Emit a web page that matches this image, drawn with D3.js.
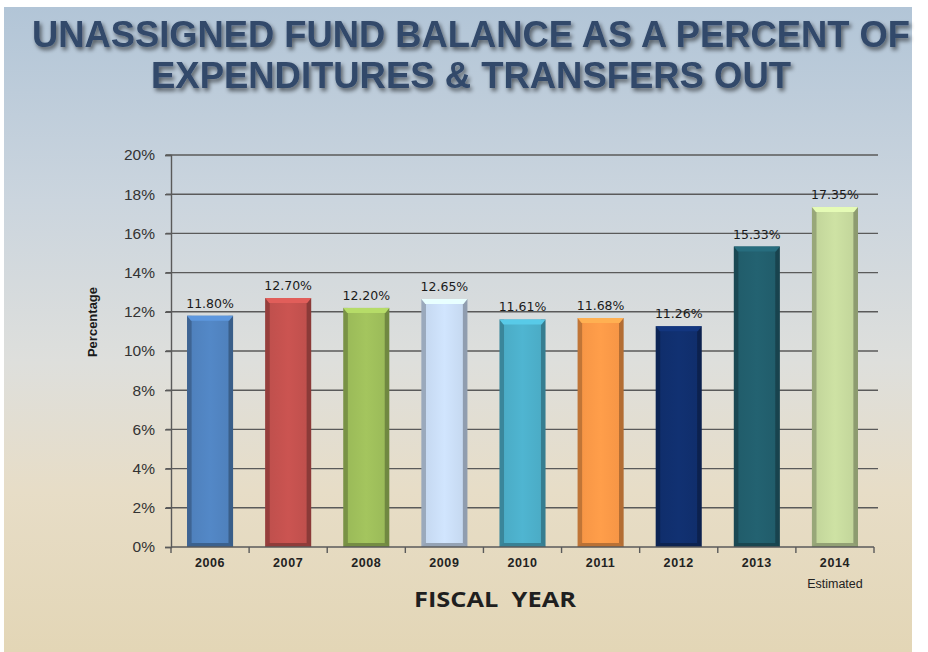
<!DOCTYPE html>
<html>
<head>
<meta charset="utf-8">
<script src="https://cdn.jsdelivr.net/npm/d3@7"></script>
<style>
  html, body { margin: 0; padding: 0; background: #ffffff; }
  svg { display: block; }
</style>
</head>
<body>
<svg id="chart" width="928" height="652"></svg>
<script>
// Fiscal years and unassigned fund balance as % of expenditures & transfers out
const years = ["2006", "2007", "2008", "2009", "2010", "2011", "2012", "2013", "2014"];
const subLabels = ["", "", "", "", "", "", "", "", "Estimated"];
const percents = [11.80, 12.70, 12.20, 12.65, 11.61, 11.68, 11.26, 15.33, 17.35];
const barColors = ["#4f81bd", "#c0504d", "#9bbb59", "#c6d9f1", "#4bacc6", "#f79646", "#102e6c", "#215d6b", "#c3d69b"];
const yTicks = [0, 2, 4, 6, 8, 10, 12, 14, 16, 18, 20];
const titleLines = ["UNASSIGNED FUND BALANCE AS A PERCENT OF", "EXPENDITURES & TRANSFERS OUT"];

const W = 928, H = 652;
const margin = { left: 171, right: 54, top: 155, bottom: 105 };

const svg = d3.select("#chart");
const defs = svg.append("defs");

// Backdrop panel: blue-grey at the top fading to sand at the bottom
const bg = defs.append("linearGradient").attr("id", "bg").attr("x1", 0).attr("y1", 0).attr("x2", 0).attr("y2", 1);
[["0%", "#b2c5d7"], ["30%", "#cbd5de"], ["55%", "#dedfdc"], ["75%", "#e7ddc7"], ["100%", "#e3d6b6"]]
  .forEach(([o, c]) => bg.append("stop").attr("offset", o).attr("stop-color", c));
svg.append("rect").attr("x", 4).attr("y", 7).attr("width", 908).attr("height", H - 7).attr("fill", "url(#bg)");

// Title drop shadow
const sh = defs.append("filter").attr("id", "tshadow").attr("x", "-5%").attr("y", "-30%").attr("width", "110%").attr("height", "160%");
sh.append("feGaussianBlur").attr("in", "SourceAlpha").attr("stdDeviation", 2).attr("result", "b");
sh.append("feOffset").attr("in", "b").attr("dx", 2).attr("dy", 3).attr("result", "o");
sh.append("feComponentTransfer").attr("in", "o").attr("result", "s")
  .append("feFuncA").attr("type", "linear").attr("slope", 0.55);
const m = sh.append("feMerge");
m.append("feMergeNode").attr("in", "s");
m.append("feMergeNode").attr("in", "SourceGraphic");

// Two-line title
const titleSpecs = [{ y: 47, len: 878 }, { y: 88, len: 640 }];
const titleG = svg.append("g").attr("filter", "url(#tshadow)");
titleLines.forEach((t, i) => {
  titleG.append("text")
    .attr("x", 471).attr("y", titleSpecs[i].y)
    .attr("text-anchor", "middle")
    .attr("textLength", titleSpecs[i].len)
    .attr("lengthAdjust", "spacingAndGlyphs")
    .style("font-family", "'Liberation Sans', Arial, sans-serif")
    .style("font-weight", 700)
    .style("font-size", "36px")
    .style("fill", "#31486a")
    .text(t);
});

// Scales
const x = d3.scaleBand().domain(years).range([margin.left, W - margin.right]).paddingInner(0.41).paddingOuter(0.205);
const xb = d3.scaleBand().domain(years).range([margin.left, W - margin.right]);
const y = d3.scaleLinear().domain([0, 20]).range([H - margin.bottom, margin.top]);

// Horizontal gridlines
svg.append("g").selectAll("line").data(yTicks.filter(d => d > 0)).join("line")
  .attr("x1", margin.left - 5).attr("x2", W - margin.right + 4)
  .attr("y1", d => y(d)).attr("y2", d => y(d))
  .attr("stroke", "#5a5a5a").attr("stroke-width", 1.4);

// Y axis
const yAxis = svg.append("g").attr("transform", `translate(${margin.left},0)`)
  .call(d3.axisLeft(y).tickValues(yTicks).tickFormat(d => d + "%").tickSize(6).tickPadding(10));
yAxis.select(".domain").attr("stroke", "#5a5a5a").attr("stroke-width", 1.4);
yAxis.selectAll(".tick line").attr("stroke", "#5a5a5a").attr("stroke-width", 1.4);
yAxis.selectAll("text")
  .style("font-family", "'Liberation Sans', Arial, sans-serif")
  .style("font-size", "15.5px").style("fill", "#333");

// Bars with bevelled sides
percents.forEach((v, i) => {
  const base = d3.color(barColors[i]);
  const g = defs.append("linearGradient").attr("id", "bar" + i).attr("x1", 0).attr("x2", 1).attr("y1", 0).attr("y2", 0);
  const dark = base.darker(0.7).formatHex(), mid = base.formatHex(), lite = base.brighter(0.15).formatHex();
  [["0%", dark], ["9%", dark], ["11%", mid], ["50%", lite], ["89%", mid], ["91%", base.darker(0.9).formatHex()], ["100%", base.darker(0.9).formatHex()]]
    .forEach(([o, c]) => g.append("stop").attr("offset", o).attr("stop-color", c));
});

const bars = svg.append("g").selectAll("g").data(percents).join("g");
bars.append("rect")
  .attr("x", (d, i) => x(years[i])).attr("width", x.bandwidth())
  .attr("y", d => y(d)).attr("height", d => y(0) - y(d))
  .attr("fill", (d, i) => `url(#bar${i})`);
// top bevel
bars.append("path")
  .attr("d", (d, i) => {
    const x0 = x(years[i]), x1 = x0 + x.bandwidth(), t = y(d), b = 5;
    return `M${x0},${t}L${x1},${t}L${x1 - 4},${t + b}L${x0 + 4},${t + b}Z`;
  })
  .attr("fill", (d, i) => d3.color(barColors[i]).brighter(0.45).formatHex());
// bottom bevel
bars.append("path")
  .attr("d", (d, i) => {
    const x0 = x(years[i]), x1 = x0 + x.bandwidth(), bt = y(0);
    return `M${x0},${bt}L${x1},${bt}L${x1 - 4},${bt - 4}L${x0 + 4},${bt - 4}Z`;
  })
  .attr("fill", (d, i) => d3.color(barColors[i]).darker(0.8).formatHex());

// Value labels
bars.append("text")
  .attr("x", (d, i) => x(years[i]) + x.bandwidth() / 2)
  .attr("y", d => y(d) - 8)
  .attr("text-anchor", "middle")
  .style("font-family", "'DejaVu Sans', Verdana, sans-serif")
  .style("font-size", "12.5px")
  .style("fill", "#1a1a1a")
  .text(d => d.toFixed(2) + "%");

// X axis with category-boundary ticks
const xAxisG = svg.append("g").attr("transform", `translate(0,${y(0)})`);
xAxisG.append("line").attr("x1", margin.left).attr("x2", W - margin.right)
  .attr("stroke", "#5a5a5a").attr("stroke-width", 1.4);
xAxisG.selectAll("line.tk").data(years.concat(["end"])).join("line").attr("class", "tk")
  .attr("x1", (d, i) => margin.left + i * xb.bandwidth()).attr("x2", (d, i) => margin.left + i * xb.bandwidth())
  .attr("y1", 0).attr("y2", 6).attr("stroke", "#5a5a5a").attr("stroke-width", 1.4);
xAxisG.selectAll("text.yr").data(years).join("text").attr("class", "yr")
  .attr("x", d => xb(d) + xb.bandwidth() / 2).attr("y", 20)
  .attr("text-anchor", "middle")
  .style("font-family", "'Liberation Sans', Arial, sans-serif")
  .style("font-weight", 700).style("font-size", "12.5px").style("letter-spacing", "0.6px").style("fill", "#222")
  .text(d => d);
xAxisG.selectAll("text.sub").data(subLabels).join("text").attr("class", "sub")
  .attr("x", (d, i) => xb(years[i]) + xb.bandwidth() / 2).attr("y", 41)
  .attr("text-anchor", "middle")
  .style("font-family", "'Liberation Sans', Arial, sans-serif")
  .style("font-size", "12.5px").style("fill", "#222")
  .text(d => d);

// Axis titles
svg.append("text")
  .attr("x", 495).attr("y", 607)
  .attr("text-anchor", "middle")
  .attr("textLength", 162)
  .attr("lengthAdjust", "spacingAndGlyphs")
  .style("font-family", "'Open Sans', 'Liberation Sans', sans-serif")
  .style("font-weight", 700).style("font-size", "21px").style("fill", "#1f1f1f")
  .style("white-space", "pre")
  .attr("xml:space", "preserve")
  .text("FISCAL  YEAR");

svg.append("text")
  .attr("transform", "translate(97,322) rotate(-90)")
  .attr("text-anchor", "middle")
  .style("font-family", "'Liberation Sans', Arial, sans-serif")
  .style("font-weight", 700).style("font-size", "13px").style("fill", "#1a1a1a")
  .text("Percentage");
</script>
</body>
</html>
